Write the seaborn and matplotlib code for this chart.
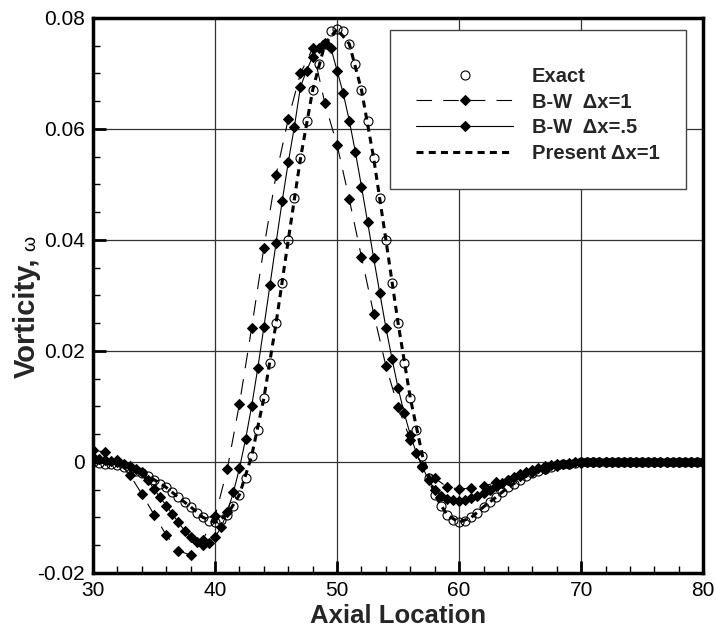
import numpy as np
import matplotlib
matplotlib.use("Agg")
import matplotlib.pyplot as plt
from matplotlib.ticker import MultipleLocator, FixedLocator, FixedFormatter
import seaborn as sns

# grids: exact + B-W dx=.5 on dx=0.5, B-W dx=1 + present on dx=1
x_fine = np.arange(30, 80.5, 0.5)
x_coarse = np.arange(30, 81, 1)

# Exact, x = 30 ... 80 step .5
exact_y = [
    -0.0001, -0.0002, -0.0003, -0.0004, -0.0006, -0.0009, -0.0012, -0.0016, -0.0020, -0.0026,
    -0.0032, -0.0039, -0.0046, -0.0055, -0.0064, -0.0073, -0.0081, -0.0092, -0.0100, -0.0106,
    -0.0109, -0.0104, -0.0095, -0.0080, -0.0059, -0.0029, 0.0011, 0.0058, 0.0115, 0.0179,
    0.0250, 0.0323, 0.0400, 0.0475, 0.0547, 0.0614, 0.0670, 0.0717, 0.0753, 0.0777,
    0.0780,
    0.0777, 0.0753, 0.0717, 0.0670, 0.0614, 0.0547, 0.0475, 0.0400, 0.0323, 0.0250,
    0.0179, 0.0115, 0.0058, 0.0011, -0.0029, -0.0059, -0.0080, -0.0095, -0.0104, -0.0109,
    -0.0106, -0.0100, -0.0092, -0.0081, -0.0073, -0.0064, -0.0055, -0.0046, -0.0039, -0.0032,
    -0.0026, -0.0020, -0.0016, -0.0012, -0.0009, -0.0006, -0.0004, -0.0003, -0.0002, -0.0001,
    0, 0, 0, 0, 0, 0, 0, 0, 0, 0,
    0, 0, 0, 0, 0, 0, 0, 0, 0, 0,
]

# B-W dx=1, x = 30 ... 80 step 1
bw1_y = [
    0.0022, 0.0017, 0.0003, -0.0023, -0.0058, -0.0095, -0.0132, -0.0160, -0.0168, -0.0140,
    -0.0098, -0.0013, 0.0105, 0.0242, 0.0386, 0.0517, 0.0618, 0.0700, 0.0745, 0.0646,
    0.0571, 0.0473, 0.0369, 0.0267, 0.0173, 0.0099, 0.0040, -0.0008, -0.0029, -0.0045,
    -0.0049, -0.0047, -0.0044, -0.0037, -0.0032, -0.0025, -0.0018, -0.0012, -0.0007, -0.0004,
    -0.0002, 0, 0, 0, 0, 0, 0, 0, 0, 0, 0,
]

# B-W dx=.5, x = 30 ... 80 step .5
bw05_y = [
    0.0008, 0.0006, 0.0004, 0.0002, 0.0000, -0.0003, -0.0008, -0.0013, -0.0019, -0.0033,
    -0.0049, -0.0064, -0.0079, -0.0094, -0.0109, -0.0124, -0.0136, -0.0145, -0.0150, -0.0146,
    -0.0135, -0.0118, -0.0090, -0.0055, -0.0011, 0.0041, 0.0101, 0.0169, 0.0243, 0.0319,
    0.0395, 0.0470, 0.0540, 0.0604, 0.0676, 0.0705, 0.0730, 0.0745, 0.0755, 0.0745,
    0.0705,
    0.0664, 0.0615, 0.0558, 0.0496, 0.0432, 0.0367, 0.0304, 0.0242, 0.0186, 0.0133,
    0.0088, 0.0049, 0.0016, -0.0010, -0.0032, -0.0050, -0.0062, -0.0067, -0.0069, -0.0070,
    -0.0068, -0.0065, -0.0061, -0.0056, -0.0050, -0.0044, -0.0038, -0.0032, -0.0027, -0.0022,
    -0.0018, -0.0014, -0.0011, -0.0008, -0.0006, -0.0004, -0.0003, -0.0002, -0.0001, 0,
    0, 0, 0, 0, 0, 0, 0, 0, 0, 0,
    0, 0, 0, 0, 0, 0, 0, 0, 0, 0,
]

# Present dx=1, x = 30 ... 80 step 1
present_y = [
    -0.0001, -0.0003, -0.0006, -0.0012, -0.0020, -0.0032, -0.0046, -0.0064, -0.0081, -0.0100,
    -0.0109, -0.0095, -0.0059, 0.0011, 0.0115, 0.0250, 0.0400, 0.0547, 0.0670, 0.0753,
    0.0780, 0.0753, 0.0670, 0.0547, 0.0400, 0.0250, 0.0115, 0.0011, -0.0059, -0.0095,
    -0.0109, -0.0100, -0.0081, -0.0064, -0.0046, -0.0032, -0.0020, -0.0012, -0.0006, -0.0003,
    -0.0001, 0, 0, 0, 0, 0, 0, 0, 0, 0, 0,
]

xticks = [30, 40, 50, 60, 70, 80]
xtick_labels = ["30", "40", "50", "60", "70", "80"]
yticks = [-0.02, 0, 0.02, 0.04, 0.06, 0.08]
ytick_labels = ["-0.02", "0", "0.02", "0.04", "0.06", "0.08"]

sns.set_style("white")
plt.rcParams["font.family"] = ["Liberation Sans", "DejaVu Sans"]

fig = plt.figure(figsize=(7.16, 6.38), dpi=100)
ax = fig.add_axes([0.130, 0.102, 0.852, 0.870])

sns.lineplot(x=x_fine, y=exact_y, ax=ax, color="k", linestyle="none", marker="o",
             markersize=6.5, markerfacecolor="none", markeredgecolor="k",
             markeredgewidth=0.8, label="Exact", zorder=3)
sns.lineplot(x=x_coarse, y=bw1_y, ax=ax, color="k", lw=0.8, linestyle=(0, (14, 10)),
             marker="D", markersize=5.3, markeredgecolor="k", markerfacecolor="k",
             label="B-W  \u0394x=1", zorder=4)
sns.lineplot(x=x_fine, y=bw05_y, ax=ax, color="k", lw=0.8, linestyle="-",
             marker="D", markersize=5.3, markeredgecolor="k", markerfacecolor="k",
             label="B-W  \u0394x=.5", zorder=4)
sns.lineplot(x=x_coarse, y=present_y, ax=ax, color="k", lw=2.2, linestyle=(0, (2.3, 1.7)),
             label="Present \u0394x=1", zorder=5)

ax.set_xlim(30, 80)
ax.set_ylim(-0.02, 0.08)
ax.xaxis.set_major_locator(FixedLocator(xticks))
ax.xaxis.set_major_formatter(FixedFormatter(xtick_labels))
ax.yaxis.set_major_locator(FixedLocator(yticks))
ax.yaxis.set_major_formatter(FixedFormatter(ytick_labels))
ax.xaxis.set_minor_locator(MultipleLocator(2))
ax.yaxis.set_minor_locator(MultipleLocator(0.005))
ax.tick_params(which="both", direction="in", bottom=True, left=True, top=False, right=False,
               labelsize=15, colors="k", pad=6)
ax.tick_params(which="major", length=9, width=2)
ax.tick_params(which="minor", length=5, width=1)

ax.grid(True, which="major", color="#333333", lw=0.9)
for s in ax.spines.values():
    s.set_linewidth(2.5)
    s.set_color("k")

ax.set_xlabel("Axial Location", fontsize=18.5, fontweight="bold", labelpad=3)
ax.set_ylabel("Vorticity,", fontsize=21, fontweight="bold")
ax.yaxis.set_label_coords(-0.0852, 0.459)
# the omega is a smaller, plain glyph right after the comma
fig.text(35 / 716, 1 - 251 / 638, "\u03c9", rotation=90, rotation_mode="anchor",
         ha="left", va="baseline", fontsize=14, color="k")

leg = ax.legend(loc="upper right", bbox_to_anchor=(0.972, 0.978),
                prop={"weight": "bold", "size": 14.5}, frameon=True, fancybox=False,
                borderpad=1.3, labelspacing=0.33, handlelength=4.8, handletextpad=0.95,
                borderaxespad=0, title=" ", title_fontsize=3)
leg.get_frame().set_edgecolor("#444444")
leg.get_frame().set_linewidth(1.0)
leg.get_frame().set_alpha(1)

plt.savefig("out.png", dpi=100)
